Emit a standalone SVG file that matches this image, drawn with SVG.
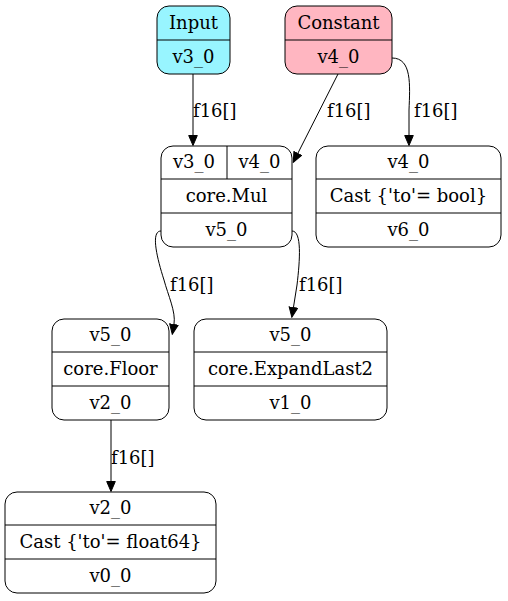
<svg xmlns="http://www.w3.org/2000/svg" width="508" height="601" viewBox="0 0 508 601">
<style>
text{font-family:"DejaVu Serif",serif;font-size:18px;fill:#000;text-anchor:middle}
.lbl{text-anchor:start}
.box{stroke:#000;stroke-width:1;fill:#fff}
.div{stroke:#000;stroke-width:1;fill:none}
.edge{stroke:#000;stroke-width:1;fill:none}
</style>
<defs>
<marker id="ah" markerWidth="11" markerHeight="10" refX="0" refY="5" orient="auto" markerUnits="userSpaceOnUse" viewBox="0 0 11 10">
<path d="M0.5,0.7 L10.5,5 L0.5,9.3 z" fill="#000" stroke="#000" stroke-width="1"/>
</marker>
</defs>
<rect width="508" height="601" fill="#fff"/>
<g id="edges">
<path class="edge" d="M193,74 L193,135" marker-end="url(#ah)"/>
<text class="lbl" x="193" y="117">f16[]</text>
<path class="edge" d="M338,74 L298,153" marker-end="url(#ah)"/>
<text class="lbl" x="327" y="117">f16[]</text>
<path class="edge" d="M392,58 C412,58 410,85 409,110 L409,135" marker-end="url(#ah)"/>
<text class="lbl" x="414" y="117">f16[]</text>
<path class="edge" d="M161,231 C151,231 156,255 164,280 C168,295 176,312 174,324" marker-end="url(#ah)"/>
<text class="lbl" x="170" y="291">f16[]</text>
<path class="edge" d="M292,231 C302,231 300,260 297,285 L293.5,307" marker-end="url(#ah)"/>
<text class="lbl" x="299" y="291">f16[]</text>
<path class="edge" d="M111,420 L111,481" marker-end="url(#ah)"/>
<text class="lbl" x="111" y="464">f16[]</text>
</g>
<g id="input">
<rect class="box" x="157" y="6" width="73" height="68" rx="12" style="fill:#98f5ff"/>
<line class="div" x1="157" y1="40" x2="230" y2="40"/>
<text x="193.5" y="29">Input</text>
<text x="193.5" y="63">v3_0</text>
</g>
<g id="constant">
<rect class="box" x="285" y="6" width="107" height="68" rx="12" style="fill:#ffb6c1"/>
<line class="div" x1="285" y1="40" x2="392" y2="40"/>
<text x="338.5" y="29">Constant</text>
<text x="338.5" y="63">v4_0</text>
</g>
<g id="mul">
<rect class="box" x="161" y="146" width="131" height="101" rx="12"/>
<line class="div" x1="161" y1="179" x2="292" y2="179"/>
<line class="div" x1="161" y1="213" x2="292" y2="213"/>
<line class="div" x1="227" y1="146" x2="227" y2="179"/>
<text x="194" y="168">v3_0</text>
<text x="259.5" y="168">v4_0</text>
<text x="226.5" y="202">core.Mul</text>
<text x="226.5" y="236">v5_0</text>
</g>
<g id="castbool">
<rect class="box" x="316" y="146" width="185" height="101" rx="12"/>
<line class="div" x1="316" y1="179" x2="501" y2="179"/>
<line class="div" x1="316" y1="213" x2="501" y2="213"/>
<text x="408.5" y="168">v4_0</text>
<text x="408.5" y="202">Cast {'to'= bool}</text>
<text x="408.5" y="236">v6_0</text>
</g>
<g id="floor">
<rect class="box" x="52" y="319" width="117" height="101" rx="12"/>
<line class="div" x1="52" y1="352" x2="169" y2="352"/>
<line class="div" x1="52" y1="386" x2="169" y2="386"/>
<text x="110.5" y="341">v5_0</text>
<text x="110.5" y="375">core.Floor</text>
<text x="110.5" y="409">v2_0</text>
</g>
<g id="expand">
<rect class="box" x="194" y="319" width="193" height="101" rx="12"/>
<line class="div" x1="194" y1="352" x2="387" y2="352"/>
<line class="div" x1="194" y1="386" x2="387" y2="386"/>
<text x="290.5" y="341">v5_0</text>
<text x="290.5" y="375">core.ExpandLast2</text>
<text x="290.5" y="409">v1_0</text>
</g>
<g id="castf64">
<rect class="box" x="5" y="492" width="211" height="101" rx="12"/>
<line class="div" x1="5" y1="525" x2="216" y2="525"/>
<line class="div" x1="5" y1="559" x2="216" y2="559"/>
<text x="110.5" y="514">v2_0</text>
<text x="110.5" y="548">Cast {'to'= float64}</text>
<text x="110.5" y="582">v0_0</text>
</g>
</svg>
